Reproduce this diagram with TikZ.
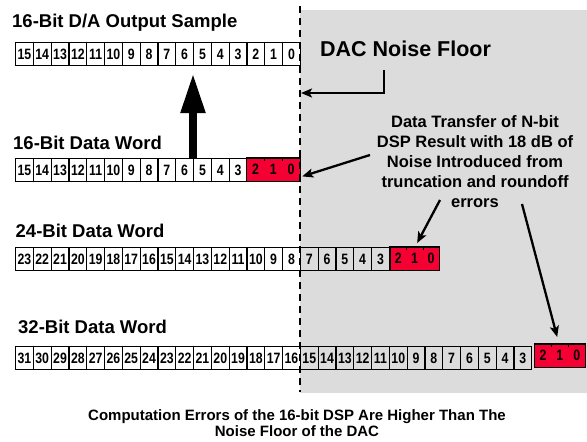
\documentclass[tikz,border=0pt]{standalone}
\usepackage{fontspec}
\setmainfont{Liberation Sans}
\newfontfamily\cellfont[FakeStretch=0.82]{Liberation Sans}
\usetikzlibrary{arrows.meta,calc}
\definecolor{floorgray}{RGB}{220,220,220}
\definecolor{errred}{RGB}{245,0,50}
\tikzset{
  bitcell/.style={draw=black, line width=1.1pt, minimum width=17.8pt, minimum height=23pt,
    inner sep=0pt, anchor=north west, font=\cellfont\bfseries\fontsize{15}{15}\selectfont},
  redcell/.style={fill=errred, inner sep=0pt, anchor=north west, minimum height=23pt,
    font=\cellfont\bfseries\fontsize{15}{15}\selectfont},
  redblock/.style={draw=black, line width=1.1pt},
  redtick/.style={draw=black, line width=0.6pt},
  rowtitle/.style={anchor=base west, inner sep=0pt, font=\bfseries\fontsize{18.5}{22}\selectfont},
  thinarrow/.style={line width=2.3pt, -{Stealth[length=11pt,width=9pt,inset=2.5pt]}},
  bigarrow/.style={line width=8pt, -{Triangle[length=40pt,width=23pt]}},
  floorline/.style={line width=2pt, dash pattern=on 7pt off 5pt},
}
\begin{document}
\begin{tikzpicture}[x=1pt,y=-1pt]
\useasboundingbox (0,0) rectangle (587,442);

% region below the DAC noise floor
\fill[floorgray] (300,10) rectangle (587,393);

% 16-bit D/A output sample
\foreach \b in {0,...,15}
  \node[bitcell] (out\b) at ({15+(15-\b)*17.8},42) {\b};

% 16-bit data word
\foreach \b in {3,...,15}
  \node[bitcell] (wa\b) at ({15+(15-\b)*17.8},158) {\b};
\foreach \b in {0,1,2}
  \node[redcell, minimum width=17.8pt] (wa\b) at ({15+(15-\b)*17.8},158) {\b};
\draw[redblock] (wa2.north west) rectangle (wa0.south east);
\draw[redtick] (wa2.north east) -- ++(0,3) (wa1.north east) -- ++(0,3);

% 24-bit data word
\foreach \b in {3,...,23}
  \node[bitcell] (wb\b) at ({15+(23-\b)*17.8},247) {\b};
\foreach \b in {0,1,2}
  \node[redcell, minimum width=16.3pt] (wb\b) at ({390+(2-\b)*16.3},247) {\b};
\draw[redblock] (wb2.north west) rectangle (wb0.south east);
\draw[redtick] (wb2.north east) -- ++(0,3) (wb1.north east) -- ++(0,3);

% 32-bit data word
\foreach \b in {3,...,31}
  \node[bitcell] (wc\b) at ({15+(31-\b)*17.8},346) {\b};
\foreach \b in {0,1,2}
  \node[redcell, minimum width=16.8pt] (wc\b) at ({534.5+(2-\b)*16.8},344) {\b};
\draw[redblock] (wc2.north west) rectangle (wc0.south east);
\draw[redtick] (wc2.north east) -- ++(0,3) (wc1.north east) -- ++(0,3);

% noise floor boundary
\coordinate (floortop) at (300,6);
\coordinate (floorbot) at (300,392);
\draw[floorline] (floortop) -- (floorbot);

% titles
\node[rowtitle] (t-out) at (12,27) {16-Bit D/A Output Sample};
\node[rowtitle] (t-a) at (13,149) {16-Bit Data Word};
\node[rowtitle] (t-b) at (15.5,237) {24-Bit Data Word};
\node[rowtitle] (t-c) at (18,333) {32-Bit Data Word};

\node[anchor=base west, inner sep=0pt, font=\bfseries\fontsize{21.5}{24}\selectfont]
  (dac) at (320,56.5) {DAC Noise Floor};

\node[align=center, inner sep=0pt, font=\bfseries\fontsize{16.5}{20}\selectfont]
  (xfer) at (475,162) {Data Transfer of N-bit\\DSP Result with 18 dB of\\Noise Introduced from\\truncation and roundoff\\errors};

\node[align=center, inner sep=0pt, font=\bfseries\fontsize{15}{16.5}\selectfont]
  (caption) at (297,423) {Computation Errors of the 16-bit DSP Are Higher Than The\\Noise Floor of the DAC};

% data word handed on to the D/A
\draw[bigarrow] (wa5.north west) -- ($(out5.south west)+(0,7)$);

% noise floor pointer
\coordinate (dacfoot) at (384,70);
\coordinate (dachit) at (301,93);
\draw[thinarrow] (dacfoot) |- (dachit);

% pointers from the transfer note
\coordinate (xfer-a) at (370,155);
\coordinate (xfer-b) at (440,200);
\coordinate (xfer-c) at (522,204);
\draw[thinarrow] (xfer-a) -- ($(wa0.south east)+(2,-5)$);
\draw[thinarrow] (xfer-b) -- ($(wb1.north)+(2.5,-4)$);
\draw[thinarrow] (xfer-c) -- ($(wc1.north)+(-2.7,-7)$);
\end{tikzpicture}
\end{document}
